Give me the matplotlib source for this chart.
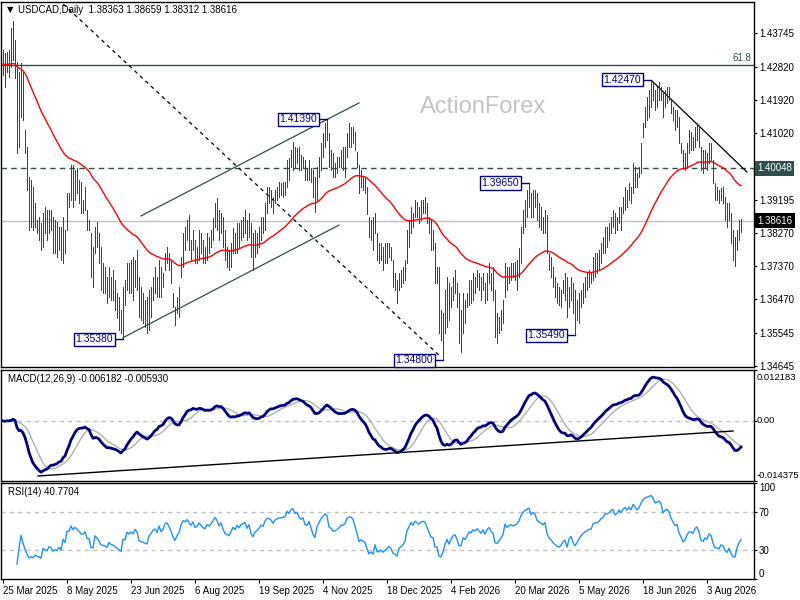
import matplotlib
matplotlib.use('Agg')
import matplotlib.pyplot as plt
import matplotlib.transforms as mtransforms
import numpy as np
import pandas as pd

plt.rcParams['font.family'] = ['Liberation Sans', 'DejaVu Sans']

# daily bars, prices stored as pips above 1.0000 (4329 -> 1.4329)
high_pips = [
    4329, 4320, 4322, 4329, 4389, 4408, 4356, 4296, 4269, 4293,
    4269, 4110, 4063, 3981, 3973, 3954, 3910, 3864, 3871, 3855,
    3883, 3899, 3891, 3891, 3891, 3871, 3864, 3858, 3844, 3844,
    3871, 3836, 3938, 3938, 4014, 4014, 4000, 4006, 3973, 3968,
    3918, 3954, 3891, 3864, 3828, 3790, 3844, 3858, 3828, 3790,
    3746, 3735, 3708, 3735, 3708, 3727, 3700, 3664, 3653, 3618,
    3681, 3700, 3746, 3746, 3754, 3763, 3754, 3782, 3708, 3681,
    3664, 3645, 3653, 3672, 3681, 3708, 3735, 3708, 3754, 3735,
    3719, 3773, 3790, 3773, 3754, 3664, 3626, 3653, 3681, 3763,
    3828, 3845, 3864, 3877, 3809, 3836, 3809, 3790, 3836, 3828,
    3809, 3790, 3828, 3817, 3836, 3869, 3910, 3924, 3891, 3883,
    3872, 3836, 3790, 3782, 3801, 3842, 3828, 3855, 3855, 3864,
    3872, 3891, 3864, 3883, 3855, 3828, 3836, 3828, 3845, 3872,
    3872, 3910, 3954, 3954, 3946, 3927, 3946, 3954, 3968, 3965,
    3968, 3968, 4028, 4033, 4055, 4077, 4063, 4061, 4063, 4042,
    4036, 4028, 4006, 4028, 4006, 4000, 3981, 4009, 4036, 4074,
    4102, 4129, 4139, 4102, 4055, 4047, 4020, 4036, 4036, 4055,
    4063, 4063, 4102, 4129, 4118, 4118, 4104, 4050, 4014, 4000,
    3981, 3979, 3954, 3872, 3864, 3872, 3883, 3828, 3801, 3801,
    3790, 3801, 3801, 3801, 3790, 3754, 3719, 3700, 3719, 3727,
    3735, 3754, 3836, 3864, 3899, 3883, 3918, 3913, 3899, 3918,
    3918, 3927, 3910, 3872, 3864, 3836, 3801, 3735, 3735, 3618,
    3609, 3672, 3708, 3691, 3681, 3708, 3727, 3691, 3664, 3618,
    3664, 3645, 3664, 3700, 3700, 3719, 3708, 3727, 3719, 3708,
    3719, 3691, 3719, 3746, 3719, 3735, 3672, 3609, 3599, 3618,
    3645, 3746, 3735, 3735, 3746, 3746, 3749, 3754, 3787, 3845,
    3891, 3918, 3946, 3965, 3938, 3946, 3946, 3938, 3910, 3899,
    3872, 3891, 3877, 3774, 3763, 3735, 3708, 3691, 3681, 3672,
    3700, 3719, 3708, 3681, 3708, 3691, 3672, 3645, 3664, 3672,
    3691, 3708, 3719, 3727, 3719, 3763, 3774, 3774, 3782, 3801,
    3817, 3845, 3845, 3855, 3872, 3891, 3883, 3872, 3899, 3899,
    3927, 3954, 3946, 3965, 3954, 4020, 4009, 3992, 4009, 4074,
    4129, 4173, 4200, 4219, 4247, 4238, 4219, 4227, 4241, 4227,
    4211, 4219, 4227, 4227, 4192, 4173, 4165, 4165, 4145, 4074,
    4055, 4047, 4074, 4110, 4104, 4091, 4118, 4129, 4124, 4063,
    4055, 4055, 4047, 4074, 4074, 4028, 3965, 3954, 3946, 3951,
    3954, 3927, 3910, 3910, 3883, 3836, 3817, 3836, 3864, 3866,
]
low_pips = [
    4260, 4227, 4268, 4255, 4282, 4301, 4252, 4047, 4063, 4145,
    4137, 4047, 3946, 3836, 3844, 3836, 3844, 3828, 3809, 3782,
    3790, 3828, 3809, 3828, 3836, 3774, 3774, 3763, 3782, 3754,
    3746, 3774, 3836, 3899, 3918, 3899, 3918, 3938, 3910, 3883,
    3883, 3891, 3836, 3836, 3708, 3681, 3774, 3790, 3746, 3672,
    3664, 3664, 3637, 3653, 3645, 3645, 3618, 3596, 3563, 3555,
    3538, 3631, 3672, 3664, 3664, 3645, 3681, 3672, 3599, 3590,
    3582, 3571, 3555, 3563, 3599, 3645, 3664, 3653, 3653, 3653,
    3681, 3727, 3746, 3727, 3691, 3626, 3577, 3609, 3599, 3708,
    3735, 3782, 3809, 3782, 3754, 3782, 3746, 3746, 3754, 3774,
    3746, 3746, 3754, 3774, 3790, 3809, 3845, 3836, 3809, 3828,
    3790, 3754, 3735, 3727, 3735, 3774, 3774, 3774, 3790, 3809,
    3817, 3828, 3809, 3817, 3763, 3727, 3763, 3774, 3790, 3809,
    3828, 3836, 3883, 3910, 3899, 3883, 3910, 3918, 3927, 3932,
    3927, 3932, 3954, 3973, 4009, 4000, 4009, 4020, 4000, 4000,
    4009, 3973, 3973, 3973, 3968, 3927, 3886, 3918, 3981, 4000,
    4036, 4063, 4083, 4009, 4000, 3981, 3981, 3992, 4009, 4009,
    4000, 3981, 4036, 4063, 4063, 4074, 4055, 4009, 3938, 3954,
    3946, 3938, 3880, 3817, 3809, 3782, 3828, 3754, 3746, 3754,
    3727, 3746, 3746, 3763, 3754, 3681, 3672, 3637, 3672, 3681,
    3691, 3700, 3746, 3790, 3828, 3845, 3872, 3872, 3855, 3864,
    3883, 3883, 3855, 3828, 3782, 3782, 3691, 3691, 3555, 3536,
    3480, 3555, 3571, 3590, 3626, 3645, 3664, 3626, 3527, 3503,
    3555, 3582, 3626, 3631, 3637, 3645, 3664, 3681, 3672, 3645,
    3672, 3637, 3645, 3691, 3672, 3645, 3544, 3527, 3555, 3563,
    3582, 3653, 3672, 3691, 3700, 3708, 3700, 3672, 3708, 3746,
    3828, 3845, 3872, 3899, 3872, 3872, 3899, 3864, 3845, 3836,
    3828, 3828, 3774, 3727, 3708, 3681, 3653, 3637, 3631, 3626,
    3664, 3645, 3599, 3626, 3645, 3609, 3549, 3590, 3582, 3626,
    3637, 3653, 3672, 3681, 3691, 3700, 3708, 3719, 3727, 3746,
    3774, 3774, 3790, 3809, 3828, 3845, 3828, 3836, 3855, 3836,
    3883, 3891, 3899, 3918, 3910, 3938, 3954, 3954, 3981, 3992,
    4091, 4118, 4137, 4145, 4173, 4192, 4165, 4173, 4192, 4192,
    4145, 4173, 4184, 4192, 4156, 4137, 4110, 4118, 4074, 4047,
    4009, 4000, 4009, 4047, 4055, 4055, 4063, 4083, 4063, 4000,
    3992, 4009, 4000, 4020, 4028, 3965, 3918, 3918, 3910, 3918,
    3910, 3864, 3845, 3864, 3801, 3754, 3737, 3782, 3809, 3831,
]
close_pips = [
    4290, 4280, 4300, 4290, 4300, 4330, 4270, 4080, 4150, 4230,
    4150, 4060, 3960, 3870, 3880, 3850, 3870, 3840, 3830, 3800,
    3870, 3850, 3830, 3860, 3850, 3790, 3800, 3790, 3810, 3770,
    3850, 3810, 3920, 3920, 3980, 3940, 3970, 3950, 3930, 3900,
    3900, 3920, 3850, 3850, 3730, 3720, 3830, 3800, 3760, 3700,
    3690, 3680, 3660, 3700, 3670, 3660, 3640, 3620, 3590, 3570,
    3660, 3650, 3720, 3700, 3720, 3700, 3740, 3720, 3620, 3610,
    3600, 3590, 3580, 3640, 3660, 3690, 3700, 3670, 3730, 3680,
    3700, 3760, 3770, 3740, 3700, 3640, 3600, 3640, 3670, 3750,
    3810, 3800, 3830, 3800, 3780, 3820, 3770, 3780, 3820, 3800,
    3780, 3770, 3810, 3800, 3820, 3850, 3890, 3870, 3830, 3860,
    3810, 3770, 3760, 3750, 3780, 3820, 3800, 3840, 3820, 3850,
    3860, 3870, 3830, 3860, 3790, 3760, 3800, 3810, 3830, 3860,
    3850, 3900, 3930, 3930, 3920, 3900, 3930, 3940, 3950, 3950,
    3955, 3960, 4010, 4000, 4040, 4050, 4030, 4040, 4020, 4010,
    4020, 3990, 3985, 4010, 3980, 3940, 3920, 3990, 4020, 4060,
    4080, 4110, 4100, 4030, 4020, 4000, 4000, 4010, 4020, 4040,
    4040, 4050, 4090, 4100, 4100, 4090, 4060, 4020, 3960, 3970,
    3960, 3950, 3890, 3830, 3840, 3810, 3860, 3770, 3770, 3780,
    3750, 3760, 3770, 3780, 3760, 3700, 3690, 3660, 3700, 3710,
    3720, 3740, 3810, 3840, 3880, 3860, 3900, 3890, 3880, 3900,
    3905, 3900, 3870, 3840, 3800, 3800, 3710, 3710, 3570, 3560,
    3590, 3640, 3680, 3620, 3660, 3690, 3700, 3650, 3560, 3560,
    3630, 3610, 3640, 3680, 3670, 3700, 3690, 3710, 3690, 3670,
    3700, 3660, 3700, 3720, 3690, 3670, 3570, 3560, 3580, 3600,
    3630, 3730, 3700, 3720, 3730, 3720, 3730, 3740, 3770, 3830,
    3870, 3900, 3920, 3940, 3900, 3930, 3920, 3880, 3870, 3860,
    3850, 3870, 3790, 3750, 3730, 3700, 3680, 3660, 3650, 3660,
    3680, 3690, 3620, 3670, 3690, 3630, 3590, 3610, 3640, 3660,
    3680, 3690, 3700, 3710, 3710, 3750, 3760, 3760, 3770, 3790,
    3800, 3830, 3830, 3840, 3860, 3870, 3850, 3860, 3890, 3880,
    3910, 3930, 3920, 3950, 3940, 4000, 3990, 3980, 4000, 4060,
    4120, 4160, 4180, 4200, 4220, 4210, 4190, 4200, 4220, 4210,
    4170, 4200, 4210, 4200, 4170, 4150, 4130, 4140, 4090, 4060,
    4020, 4030, 4060, 4080, 4080, 4070, 4100, 4110, 4080, 4020,
    4010, 4030, 4020, 4050, 4040, 3980, 3930, 3930, 3920, 3940,
    3930, 3880, 3860, 3880, 3820, 3770, 3760, 3810, 3840, 3862,
]

date_labels = ['25 Mar 2025', '8 May 2025', '23 Jun 2025', '6 Aug 2025',
               '19 Sep 2025', '4 Nov 2025', '18 Dec 2025', '4 Feb 2026',
               '20 Mar 2026', '5 May 2026', '18 Jun 2026', '3 Aug 2026']
bars_per_label = 32

price_ticks = [1.34645, 1.35545, 1.36470, 1.37370, 1.38270, 1.39195,
               1.41020, 1.41920, 1.42820, 1.43745]
macd_ticks = [-0.014375, 0.0, 0.012183]
macd_tick_text = ['-0.014375', '0.00', '0.012183']
rsi_ticks = [0, 30, 70, 100]

# marked swing levels: (bar, price, text)
swing_labels = [(60, 1.35380, '1.35380'), (162, 1.41390, '1.41390'),
                (220, 1.34800, '1.34800'), (263, 1.39650, '1.39650'),
                (286, 1.35490, '1.35490'), (324, 1.42470, '1.42470')]
fib_level = 1.4288
pivot_level = 1.40048
last_price = 1.38616

highs = 1 + np.array(high_pips) / 10000
lows = 1 + np.array(low_pips) / 10000
closes = 1 + np.array(close_pips) / 10000
n = len(closes)
x = np.arange(n)

# indicators from closes
cs = pd.Series(closes)
ema55 = cs.ewm(span=55, adjust=False).mean()
macd = cs.ewm(span=12, adjust=False).mean() - cs.ewm(span=26, adjust=False).mean()
signal = macd.rolling(9, min_periods=1).mean()
delta = cs.diff()
up = delta.clip(lower=0).ewm(alpha=1/14, min_periods=7).mean()
down = (-delta.clip(upper=0)).ewm(alpha=1/14, min_periods=7).mean()
rsi = 100 - 100 / (1 + up / down)

bar_col = '#1D4D63'
navy = '#000080'
slate = '#2F4F4F'
small = 7

fig = plt.figure(figsize=(8, 6), dpi=100, facecolor='white')
ax = fig.add_axes([1/800, 233/600, 753/800, 365/600])
ax_m = fig.add_axes([1/800, 119/600, 753/800, 111/600], sharex=ax)
ax_r = fig.add_axes([1/800, 21/600, 753/800, 96/600], sharex=ax)

for a in (ax, ax_m, ax_r):
    a.yaxis.tick_right()
    a.tick_params(axis='y', labelsize=small, length=2, pad=1.5)
    a.tick_params(axis='x', length=3)
    for s in a.spines.values():
        s.set_linewidth(1)
        s.set_color('black')

# main price panel
ax.axhline(last_price, color='#C0C0C0', lw=1, zorder=1)
ax.axhline(fib_level, color=slate, lw=1, zorder=1)
ax.axhline(pivot_level, color=slate, lw=1, ls=(0, (4, 3)), zorder=1)
ax.vlines(x, lows, highs, color=bar_col, lw=0.72, antialiased=False, zorder=3)
ax.plot(x, ema55, color='red', lw=1, zorder=4)

# trend lines
ax.plot([20, 219], [1.4506, 1.3489], color='black', lw=0.9, ls=(0, (3, 3)), zorder=2)
ax.plot([69, 178], [1.3875, 1.4184], color=slate, lw=0.9, zorder=2)
ax.plot([60, 168], [1.3542, 1.3850], color=slate, lw=0.9, zorder=2)
ax.plot([324.5, 372], [1.4244, 1.3995], color='black', lw=0.9, zorder=2)

for bar, level, txt in swing_labels:
    ax.plot([bar - 5, bar], [level, level], color=navy, lw=1, zorder=5)
    ax.text(bar - 5, level, txt, ha='right', va='center', fontsize=7.5,
            color=navy, zorder=6,
            bbox=dict(boxstyle='square,pad=0.15', fc='white', ec=navy, lw=1))

ax.text(374, fib_level + 0.0004, '61.8', ha='right', va='bottom',
        fontsize=small, color=slate)
ax.text(0.64, 0.712, 'ActionForex', transform=ax.transAxes, ha='center',
        va='center', fontsize=17, color='#C4C4C4')

ax.set_xlim(-1, 375.5)
ax.set_ylim(1.34618, 1.44600)
ax.set_yticks(price_ticks)
ax.set_yticklabels([f'{p:.5f}' for p in price_ticks])
ax.tick_params(axis='x', bottom=False, labelbottom=False)

tr = mtransforms.blended_transform_factory(ax.transAxes, ax.transData)
ax.text(1.004, pivot_level, f'{pivot_level:.5f}', transform=tr, ha='left',
        va='center', fontsize=small, color='white',
        bbox=dict(boxstyle='square,pad=0.25', fc=slate, ec='none'))
ax.text(1.004, last_price, f'{last_price:.5f}', transform=tr, ha='left',
        va='center', fontsize=small, color='white',
        bbox=dict(boxstyle='square,pad=0.25', fc='black', ec='none'))

fig.text(7/800, 1 - 10/600, '\u25BC', fontsize=6, va='center', ha='left',
         family='DejaVu Sans')
fig.text(18/800, 1 - 10/600, 'USDCAD,Daily  1.38363 1.38659 1.38312 1.38616',
         fontsize=small, va='center', ha='left')

# MACD panel
ax_m.axhline(0, color='#C0C0C0', lw=1, ls=(0, (3, 3)))
ax_m.plot(x, signal, color='#B0B0B0', lw=1)
ax_m.plot(x, macd, color=navy, lw=2)
ax_m.plot([17.5, 365], [-0.013179, -0.002412], color='black', lw=1)
ax_m.set_ylim(macd_ticks[0], macd_ticks[-1])
ax_m.set_yticks(macd_ticks)
ax_m.set_yticklabels([])
ax_m.tick_params(axis='x', bottom=False, labelbottom=False)
trm = mtransforms.blended_transform_factory(ax_m.transAxes, ax_m.transData)
for val, txt, va, dy in zip(macd_ticks, macd_tick_text,
                            ('bottom', 'center', 'top'), (1, 0, -2)):
    off = mtransforms.offset_copy(trm, fig=fig, x=0, y=dy, units='points')
    ax_m.text(1.004, val, txt, transform=off, ha='left', va=va,
              fontsize=6.8)
ax_m.text(7/753, 1 - 9/111, 'MACD(12,26,9) -0.006182 -0.005930',
          transform=ax_m.transAxes, fontsize=small, va='center', ha='left')

# RSI panel
for lv in (30, 70):
    ax_r.axhline(lv, color='#C0C0C0', lw=1, ls=(0, (3, 3)))
ax_r.plot(x, rsi, color='#1E90FF', lw=1)
ax_r.set_ylim(0, 100)
ax_r.set_yticks(rsi_ticks)
rl = ax_r.get_yticklabels()
rl[0].set_va('bottom')
rl[-1].set_va('top')
ax_r.text(7/753, 1 - 9/96, 'RSI(14) 40.7704', transform=ax_r.transAxes,
          fontsize=small, va='center', ha='left')

ax_r.set_xticks(np.arange(len(date_labels)) * bars_per_label)
ax_r.set_xticklabels(date_labels, ha='left', fontsize=small)
ax_r.tick_params(axis='x', pad=2)

fig.savefig('out.png', dpi=100, facecolor='white')
